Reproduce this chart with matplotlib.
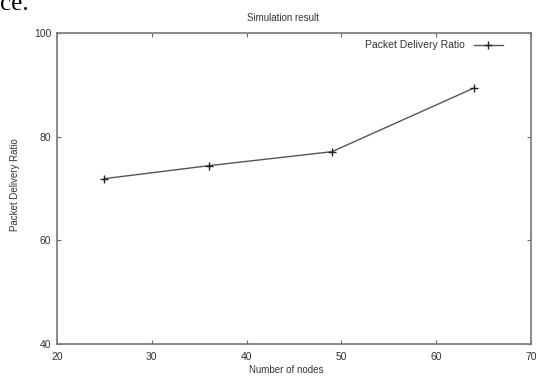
import matplotlib
matplotlib.use("Agg")
import matplotlib.pyplot as plt

# data
nodes = [25, 36, 49, 64]
pdr = [71.9, 74.4, 77.1, 89.4]
x_ticks = [20, 30, 40, 50, 60, 70]
y_ticks = [40, 60, 80, 100]

plt.rcParams["font.family"] = ["Liberation Sans", "DejaVu Sans"]

fig = plt.figure(figsize=(5.38, 3.76), dpi=100)
ax = fig.add_axes([57 / 538, 1 - 344 / 376, (531 - 57) / 538, (344 - 33) / 376])

ax.plot(nodes, pdr, color="#555555", linewidth=1.0, marker="+",
        markersize=6, markeredgecolor="#222222", markeredgewidth=1.0,
        label="Packet Delivery Ratio")

ax.set_xlim(20, 70)
ax.set_ylim(40, 100)
ax.set_xticks(x_ticks)
ax.set_yticks(y_ticks)
ax.tick_params(direction="in", length=3, width=0.8, color="#666666",
               labelsize=7.5, labelcolor="#333333", top=True, right=True, pad=4)
ax.tick_params(axis="x", pad=6)
for s in ax.spines.values():
    s.set_color("#777777")
    s.set_linewidth(1.2)

leg = ax.legend(loc="upper right", bbox_to_anchor=(1 - 21 / 474, 1),
                frameon=False, fontsize=7.5, handlelength=2.8,
                markerfirst=False, borderaxespad=0.3)
for t in leg.get_texts():
    t.set_color("#333333")

fig.text(283 / 538, 1 - 18 / 376, "Simulation result", ha="center", va="center",
         fontsize=7, color="#333333")
fig.text(286 / 538, 1 - 370 / 376, "Number of nodes", ha="center", va="center",
         fontsize=7, color="#333333")
fig.text(15 / 538, 1 - 185 / 376, "Packet Delivery Ratio", ha="center", va="center",
         rotation=90, fontsize=7, color="#333333")

# leftover text from the source page (cut off at the top, as in the reference)
fig.text(0, 1 - 10 / 376, "ce.", ha="left", va="baseline", fontsize=18,
         family="Liberation Serif", color="black")

fig.savefig("out.png", dpi=100)
